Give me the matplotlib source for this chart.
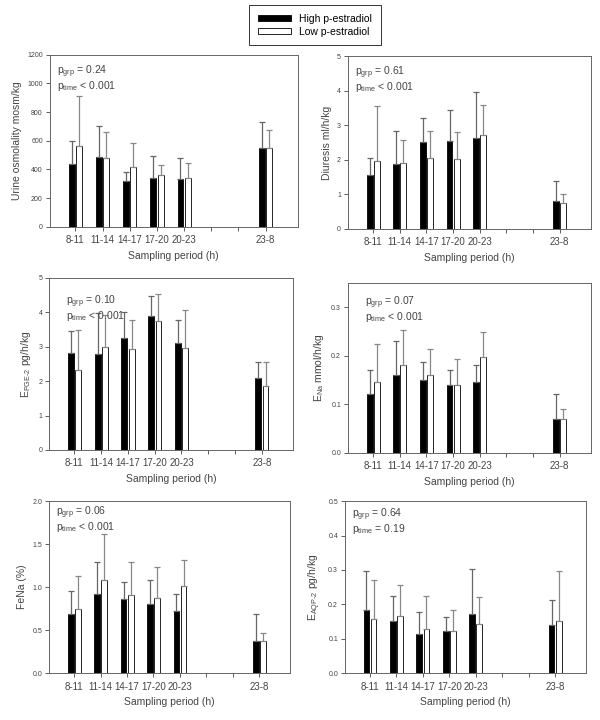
import numpy as np
import matplotlib
matplotlib.use("Agg")
import matplotlib.pyplot as plt
from matplotlib.patches import Patch

plt.rcParams['font.family'] = ['Liberation Sans', 'DejaVu Sans']
plt.rcParams['mathtext.fontset'] = 'custom'
plt.rcParams['mathtext.rm'] = 'Liberation Sans'
plt.rcParams['mathtext.it'] = 'Liberation Sans'

# sampling periods; two empty slots between 20-23 and 23-8
periods = ["8-11", "11-14", "14-17", "17-20", "20-23", "", "", "23-8"]
used = [0, 1, 2, 3, 4, 7]

osm_high = [441, 487, 318, 337, 330, 550]
osm_high_sd = [160, 219, 65, 160, 150, 179]
osm_low = [562, 478, 418, 364, 339, 552]
osm_low_sd = [353, 181, 167, 68, 107, 126]

diu_high = [1.56, 1.88, 2.53, 2.55, 2.64, 0.81]
diu_high_sd = [0.50, 0.96, 0.67, 0.88, 1.32, 0.59]
diu_low = [1.97, 1.91, 2.04, 2.02, 2.72, 0.76]
diu_low_sd = [1.58, 0.67, 0.80, 0.79, 0.86, 0.25]

pge_high = [2.82, 2.80, 3.25, 3.88, 3.11, 2.09]
pge_high_sd = [0.63, 1.18, 0.75, 0.59, 0.68, 0.46]
pge_low = [2.33, 2.99, 2.94, 3.74, 2.96, 1.86]
pge_low_sd = [1.17, 0.92, 0.85, 0.79, 1.10, 0.71]

na_high = [0.122, 0.161, 0.150, 0.139, 0.145, 0.070]
na_high_sd = [0.048, 0.070, 0.037, 0.032, 0.036, 0.052]
na_low = [0.145, 0.181, 0.161, 0.139, 0.197, 0.069]
na_low_sd = [0.079, 0.073, 0.054, 0.054, 0.051, 0.021]

fena_high = [0.685, 0.92, 0.86, 0.80, 0.72, 0.37]
fena_high_sd = [0.275, 0.37, 0.20, 0.28, 0.20, 0.32]
fena_low = [0.75, 1.08, 0.91, 0.87, 1.015, 0.37]
fena_low_sd = [0.38, 0.54, 0.38, 0.36, 0.30, 0.10]

aqp_high = [0.185, 0.153, 0.113, 0.123, 0.171, 0.141]
aqp_high_sd = [0.113, 0.071, 0.065, 0.040, 0.131, 0.072]
aqp_low = [0.158, 0.166, 0.128, 0.123, 0.142, 0.152]
aqp_low_sd = [0.114, 0.089, 0.096, 0.062, 0.078, 0.146]

panels = [
    dict(ylabel="Urine osmolality mosm/kg", ylim=1200, yticks=[0, 200, 400, 600, 800, 1000, 1200],
         fmt="{:.0f}", high=osm_high, hsd=osm_high_sd, low=osm_low, lsd=osm_low_sd,
         pgrp="= 0.24", ptime="< 0.001", txt=(0.03, 0.95),
         rect=[0.083, 0.685, 0.413, 0.239]),
    dict(ylabel="Diuresis ml/h/kg", ylim=5, yticks=[0, 1, 2, 3, 4, 5],
         fmt="{:.0f}", high=diu_high, hsd=diu_high_sd, low=diu_low, lsd=diu_low_sd,
         pgrp="= 0.61", ptime="< 0.001", txt=(0.03, 0.95),
         rect=[0.580, 0.682, 0.405, 0.240]),
    dict(ylabel="E$_{\\mathregular{PGE\\text{-}2}}$ pg/h/kg", ylim=5, yticks=[0, 1, 2, 3, 4, 5],
         fmt="{:.0f}", high=pge_high, hsd=pge_high_sd, low=pge_low, lsd=pge_low_sd,
         pgrp="= 0.10", ptime="< 0.001", txt=(0.07, 0.91),
         rect=[0.082, 0.375, 0.407, 0.239]),
    dict(ylabel="E$_{\\mathregular{Na}}$ mmol/h/kg", ylim=0.35, yticks=[0.0, 0.1, 0.2, 0.3],
         fmt="{:.1f}", high=na_high, hsd=na_high_sd, low=na_low, lsd=na_low_sd,
         pgrp="= 0.07", ptime="< 0.001", txt=(0.07, 0.93),
         rect=[0.580, 0.371, 0.405, 0.236]),
    dict(ylabel="FeNa (%)", ylim=2.0, yticks=[0.0, 0.5, 1.0, 1.5, 2.0],
         fmt="{:.1f}", high=fena_high, hsd=fena_high_sd, low=fena_low, lsd=fena_low_sd,
         pgrp="= 0.06", ptime="< 0.001", txt=(0.03, 0.98),
         rect=[0.082, 0.065, 0.402, 0.239]),
    dict(ylabel="E$_{\\mathregular{AQP\\text{-}2}}$ pg/h/kg", ylim=0.5, yticks=[0.0, 0.1, 0.2, 0.3, 0.4, 0.5],
         fmt="{:.1f}", high=aqp_high, hsd=aqp_high_sd, low=aqp_low, lsd=aqp_low_sd,
         pgrp="= 0.64", ptime="= 0.19", txt=(0.03, 0.97),
         rect=[0.575, 0.065, 0.402, 0.239]),
]

fig = plt.figure(figsize=(6, 7.2), dpi=100)
grey = "#444444"
x = np.array(used, dtype=float)
w = 0.22

for p in panels:
    ax = fig.add_axes(p["rect"])
    ax.bar(x - 0.13, p["high"], w, color="black", edgecolor="black", linewidth=0.6,
           yerr=[np.zeros(6), p["hsd"]], error_kw=dict(ecolor="#666666", elinewidth=0.9,
                                                        capsize=2.2, capthick=0.9))
    ax.bar(x + 0.14, p["low"], w, color="white", edgecolor="black", linewidth=0.6,
           yerr=[np.zeros(6), p["lsd"]], error_kw=dict(ecolor="#888888", elinewidth=0.9,
                                                       capsize=2.2, capthick=0.9))
    ax.set_xlim(-0.94, 8.18)
    ax.set_ylim(0, p["ylim"])
    ax.set_xticks(range(len(periods)))
    ax.set_xticklabels(periods, fontsize=7, color=grey)
    ax.set_yticks(p["yticks"])
    ax.set_yticklabels([p["fmt"].format(v) for v in p["yticks"]], fontsize=5, color=grey)
    ax.tick_params(axis="both", direction="out", length=3, width=0.6, colors=grey,
                   pad=2)
    ax.tick_params(axis="x", labelcolor=grey, pad=3)
    for s in ax.spines.values():
        s.set_color("#666666")
        s.set_linewidth(0.7)
    ax.set_xlabel("Sampling period (h)", fontsize=7.5, color=grey, labelpad=4)
    ax.set_ylabel(p["ylabel"], fontsize=7.5, color=grey, labelpad=4)
    tx, ty = p["txt"]
    ax.text(tx, ty, "$\\mathregular{p_{grp}}$ " + p["pgrp"], transform=ax.transAxes,
            fontsize=7.5, color=grey, va="top")
    ax.text(tx, ty - 0.09, "$\\mathregular{p_{time}}$ " + p["ptime"], transform=ax.transAxes,
            fontsize=7.5, color=grey, va="top")

handles = [Patch(facecolor="black", edgecolor="black", linewidth=0.6, label="High p-estradiol"),
           Patch(facecolor="white", edgecolor="black", linewidth=0.6, label="Low p-estradiol")]
leg = fig.legend(handles=handles, loc="center", bbox_to_anchor=(0.525, 0.965),
                 fontsize=7.5, frameon=True, fancybox=False, edgecolor="black",
                 handlelength=3.2, handleheight=0.5, labelspacing=0.3, borderpad=0.8)
leg.get_frame().set_linewidth(0.7)

fig.savefig("out.png", dpi=100)
